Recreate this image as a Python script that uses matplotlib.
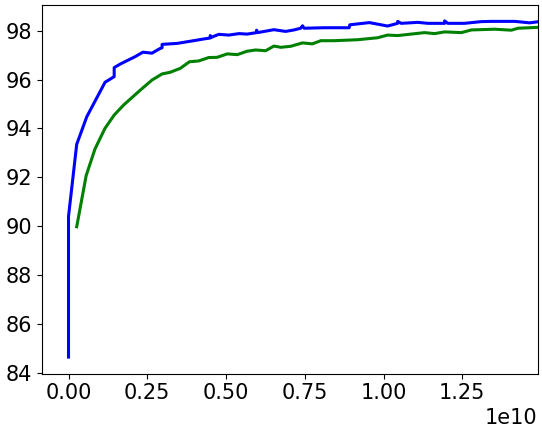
import numpy as np
import matplotlib
matplotlib.use("Agg")
import matplotlib.pyplot as plt

# x values in units of 1e10
blue_x = [0.0, 0.0, 0.026, 0.058, 0.116, 0.145, 0.145, 0.165, 0.212, 0.236, 0.265, 0.289,
          0.297, 0.297, 0.345, 0.397, 0.429, 0.450, 0.450, 0.452, 0.477, 0.509, 0.541, 0.567,
          0.597, 0.597, 0.600, 0.652, 0.689, 0.716, 0.737, 0.743, 0.748, 0.811, 0.891, 0.893,
          0.955, 1.013, 1.045, 1.045, 1.056, 1.109, 1.141, 1.194, 1.194, 1.204, 1.257, 1.310,
          1.342, 1.417, 1.464, 1.500]
blue_y = [84.65, 90.40, 93.35, 94.48, 95.89, 96.12, 96.49, 96.64, 96.94, 97.12, 97.08, 97.26,
          97.30, 97.44, 97.48, 97.59, 97.66, 97.70, 97.80, 97.72, 97.85, 97.82, 97.88, 97.86,
          97.92, 98.02, 97.92, 98.04, 97.97, 98.03, 98.10, 98.20, 98.10, 98.12, 98.12, 98.24,
          98.33, 98.19, 98.30, 98.38, 98.30, 98.34, 98.30, 98.30, 98.40, 98.30, 98.30, 98.37,
          98.38, 98.38, 98.32, 98.38]

green_x = [0.026, 0.056, 0.084, 0.116, 0.145, 0.175, 0.228, 0.265, 0.297, 0.323, 0.355, 0.384,
           0.413, 0.445, 0.472, 0.504, 0.536, 0.567, 0.594, 0.626, 0.652, 0.674, 0.705, 0.743,
           0.774, 0.801, 0.843, 0.918, 0.981, 1.013, 1.045, 1.130, 1.162, 1.194, 1.247, 1.279,
           1.353, 1.406, 1.427, 1.500]
green_y = [89.98, 92.07, 93.16, 94.01, 94.55, 94.96, 95.57, 95.98, 96.23, 96.30, 96.46, 96.73,
           96.76, 96.90, 96.91, 97.05, 97.02, 97.16, 97.21, 97.18, 97.37, 97.32, 97.36, 97.50,
           97.46, 97.59, 97.59, 97.63, 97.71, 97.82, 97.80, 97.92, 97.88, 97.95, 97.92, 98.03,
           98.06, 98.02, 98.10, 98.14]

W, H = 542, 433
fig = plt.figure(figsize=(W / 100, H / 100), dpi=100)
ax = fig.add_axes([41.7 / W, (H - 373.7) / H, 496 / W, 368.7 / H])

ax.plot(np.array(blue_x) * 1e10, blue_y, color="blue", lw=2.2)
ax.plot(np.array(green_x) * 1e10, green_y, color="green", lw=2.2)

ax.set_xlim(-0.0851e10, 1.4895e10)
ax.set_ylim(83.97, 99.05)
ax.set_yticks([84, 86, 88, 90, 92, 94, 96, 98])
ax.tick_params(labelsize=15)
ax.xaxis.get_offset_text().set_fontsize(15)

fig.savefig("out.png", dpi=100)
